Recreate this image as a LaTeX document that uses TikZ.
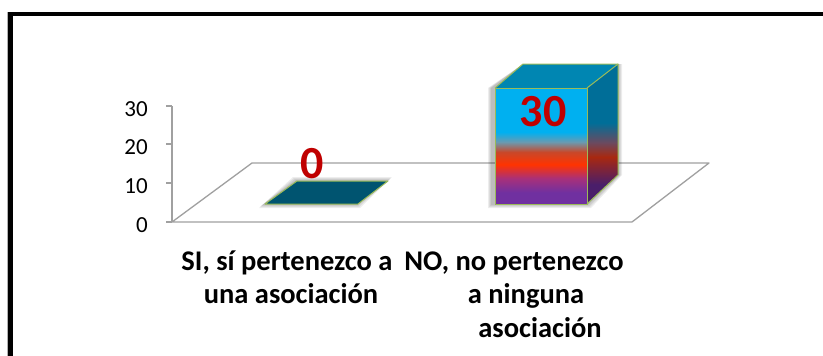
\documentclass[tikz,border=0pt]{standalone}
\usepackage{fontspec}
\setmainfont{Carlito}
\definecolor{axisgray}{HTML}{A0A0A0}
\definecolor{edgegreen}{HTML}{9BBB59}
\definecolor{flatteal}{HTML}{005470}
\definecolor{topteal}{HTML}{0086B2}
\definecolor{lblue}{HTML}{00B0F0}
\definecolor{grayblue}{HTML}{6A9AB0}
\definecolor{redbrown}{HTML}{C8482A}
\definecolor{oranred}{HTML}{FF3300}
\definecolor{magpurp}{HTML}{A8307A}
\definecolor{purp}{HTML}{7030A0}
\definecolor{sideteal}{HTML}{006E98}
\definecolor{sidebrown}{HTML}{6A4A60}
\definecolor{sidered}{HTML}{A82810}
\definecolor{sidepurp}{HTML}{4A1E6A}
\definecolor{valred}{HTML}{C00000}
\pgfdeclareverticalshading{frontshade}{100bp}{%
  color(0bp)=(purp); color(25bp)=(purp); color(30bp)=(purp);
  color(36bp)=(magpurp); color(42bp)=(oranred); color(47.4bp)=(redbrown);
  color(51.7bp)=(grayblue); color(56bp)=(lblue); color(75bp)=(lblue); color(100bp)=(lblue)}
\pgfdeclareverticalshading{sideshade}{100bp}{%
  color(0bp)=(sidepurp); color(25bp)=(sidepurp); color(32bp)=(sidepurp);
  color(41.8bp)=(sidered); color(47bp)=(sidebrown); color(54bp)=(sideteal);
  color(75bp)=(sideteal); color(100bp)=(sideteal)}
\tikzset{
  axisline/.style={draw=axisgray, line width=1.3pt},
  ticklabel/.style={anchor=east, inner sep=0pt, font=\fontsize{23}{27}\selectfont},
  catlabel/.style={anchor=base, inner sep=0pt, font=\bfseries\fontsize{28.5}{32}\selectfont},
  vallabel/.style={inner sep=0pt, text=valred, font=\bfseries\fontsize{46}{50}\selectfont},
  baredge/.style={draw=edgegreen, line width=1pt, line join=round},
}
\begin{document}
\begin{tikzpicture}[x=1pt,y=-1pt]
\useasboundingbox (0,0) rectangle (823,356);
\fill[white] (0,0) rectangle (823,356);
% frame
\fill[gray!60] (7.3,12.3) rectangle (8.5,356);
\fill[black] (8.3,12.3) rectangle (13.3,356);
\fill[black] (8.3,12.3) rectangle (823,15.7);
% axis
\draw[axisline] (172,106) -- (172,222);
\foreach \yy/\v in {222/0,183/10,144/20,106/30}{
  \draw[axisline] (166,\yy) -- (172,\yy);
  \node[ticklabel] (t\v) at (148,\yy+3) {\v};
}
% floor
\draw[axisline, line join=round] (172,222) -- (632,222) -- (709,163) -- (252,163) -- cycle;
% flat bar shadow
\foreach \s in {4,3,2,1}{
  \fill[black, opacity=0.07] (265-\s-2,204+\s) -- (358+\s-2,204+\s) -- (388+\s,181-\s) -- (297-\s,181-\s) -- cycle;
}
\filldraw[baredge, fill=flatteal] (265,204) -- (358,204) -- (388,181) -- (297,181) -- cycle;
% big bar shadow
\foreach \s in {4,3,2,1}{
  \fill[black, opacity=0.07] (495-\s-3,204+\s) -- (587+\s,204+\s) -- (618+\s,175) -- (618+\s,64) -- (523,64) -- (495-\s-3,88) -- cycle;
}
\shade[shading=frontshade] (495,88) rectangle (587,204);
\shade[shading=sideshade] (587,88) -- (618,64) -- (618,175) -- (587,204) -- cycle;
\fill[topteal] (495,88) -- (587,88) -- (618,64) -- (523,64) -- cycle;
\draw[baredge] (495,204) -- (495,88) -- (587,88) -- (587,204) -- cycle;
\draw[baredge] (587,88) -- (618,64) -- (618,175) -- (587,204);
\draw[baredge] (495,88) -- (523,64) -- (618,64);
% value labels
\node[vallabel] (v0) at (312,164) {0};
\node[vallabel] (v30) at (543,112) {30};
% category labels
\node[catlabel] (c1a) at (287,270) {SI, sí pertenezco a};
\node[catlabel] (c1b) at (291,303) {una asociación};
\node[catlabel] (c2a) at (514,270) {NO, no pertenezco};
\node[catlabel] (c2b) at (526,303) {a ninguna};
\node[catlabel] (c2c) at (540,337) {asociación};
\end{tikzpicture}
\end{document}
